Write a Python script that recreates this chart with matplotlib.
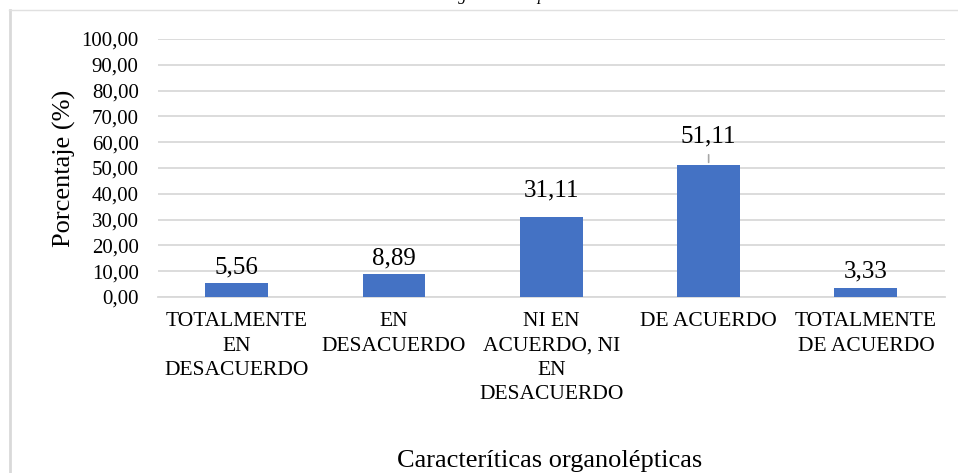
import matplotlib.pyplot as plt
from matplotlib.lines import Line2D

plt.rcParams['font.family'] = ['Liberation Serif', 'DejaVu Serif']

categorias = ["TOTALMENTE\nEN\nDESACUERDO", "EN\nDESACUERDO",
              "NI EN\nACUERDO, NI\nEN\nDESACUERDO", "DE ACUERDO",
              "TOTALMENTE\nDE ACUERDO"]
porcentaje = [5.56, 8.89, 31.11, 51.11, 3.33]
# offset of each value label above its bar, in points (set by hand in the original)
label_off = [3, 3, 11, 13, 4]

yticks = list(range(0, 101, 10))

fig = plt.figure(figsize=(9.58, 4.73), dpi=100)
ax = fig.add_axes([0.165, 0.372, 0.821, 0.5455])

x = list(range(len(categorias)))
ax.bar(x, porcentaje, width=0.4, color='#4472C4', zorder=3)
ax.set_xlim(-0.5, len(categorias) - 0.5)
ax.set_ylim(0, 100)
ax.set_yticks(yticks)
ax.set_yticklabels([f"{v:.2f}".replace('.', ',') for v in yticks], fontsize=15)
ax.set_xticks(x)
ax.set_xticklabels(categorias, fontsize=15.5, linespacing=1.38, va='top')
ax.tick_params(axis='both', length=0)
ax.tick_params(axis='y', pad=14)
ax.tick_params(axis='x', pad=11)
ax.grid(axis='y', color='#d9d9d9', lw=1.3, zorder=0)
for s in ['top', 'right', 'left']:
    ax.spines[s].set_visible(False)
ax.spines['bottom'].set_color('#d9d9d9')
ax.spines['bottom'].set_linewidth(1.3)

for i, v in enumerate(porcentaje):
    ax.annotate(f"{v:.2f}".replace('.', ','), (i, v), xytext=(0, label_off[i]),
                textcoords='offset points', ha='center', va='bottom', fontsize=18)
# leader line for the moved label
ax.annotate('', (3, porcentaje[3]), xytext=(0, 9.5), textcoords='offset points',
            arrowprops=dict(arrowstyle='-', color='#a6a6a6', lw=1.2))

ax.set_ylabel("Porcentaje (%)", fontsize=19, labelpad=4)
fig.text(0.574, 0.0127, "Caracteríticas organolépticas", fontsize=19,
         ha='center', va='baseline')

# chart frame (cropped)
fig.add_artist(Line2D([9.5 / 958, 9.5 / 958], [0, 1 - 10 / 473], transform=fig.transFigure,
                      color='#d9d9d9', lw=2))
fig.add_artist(Line2D([9 / 958, 1], [1 - 10 / 473, 1 - 10 / 473], transform=fig.transFigure,
                      color='#e0e0e0', lw=1))

# title cut off at the top edge (only descenders show in the original)
fig.text(0.509, 1.0, "Evaluación general del producto", fontsize=12,
         style='italic', ha='center', va='baseline')

fig.savefig("out.png", dpi=100)
